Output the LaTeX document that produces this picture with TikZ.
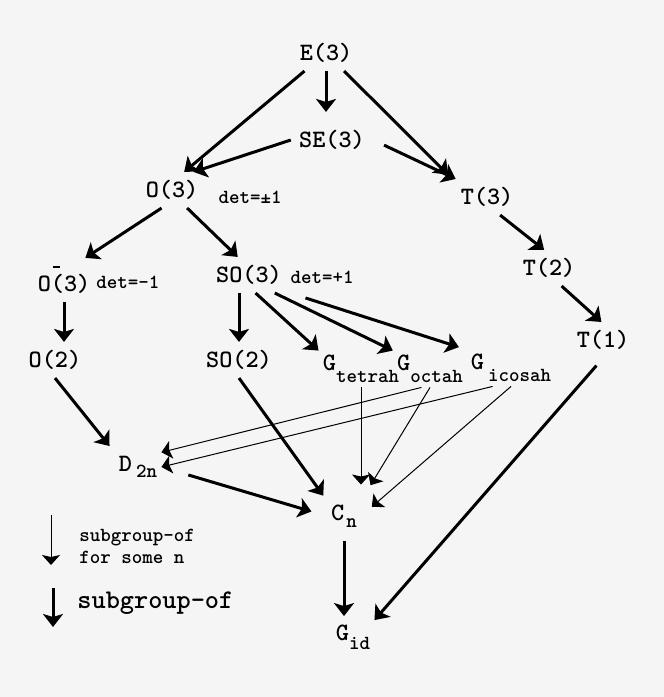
\documentclass[tikz,border=0pt]{standalone}
\usepackage{fontspec}
\usetikzlibrary{arrows.meta}
\newcommand\lowsub[2]{\raisebox{-#1}{\fontsize{10}{12}\selectfont #2}}

\begin{document}
\begin{tikzpicture}[x=.5pt,y=-.5pt,>={Stealth[length=6.5pt,width=10pt,inset=1.5pt]},
	grp/.style={font=\ttfamily\bfseries\fontsize{12.5}{15}\selectfont,inner sep=4pt},
	idx/.style={font=\ttfamily\bfseries\fontsize{12.5}{15}\selectfont,inner sep=2pt},
	note/.style={font=\ttfamily\bfseries\fontsize{10}{11}\selectfont,inner sep=0pt},
	strong/.style={->,line width=1.5pt},
	weak/.style={-{Stealth[length=5pt,width=9pt,inset=1pt]},line width=.5pt}]
	\fill[black!4] (0,0) rectangle (664,697);
	\useasboundingbox (0,0) rectangle (664,697);
	% groups
	\node[grp] (e3) at (326,53) {E(3)};
	\node[grp] (se3) at (332,140) {SE(3)};
	\node[grp] (o3) at (172,190) {O(3)};
	\node[grp] (t3) at (487,197) {T(3)};
	\node[grp] (om3) at (64,280) {O\rlap{\raisebox{12pt}{\hspace{1pt}\rule{3.8pt}{.7pt}}}(3)};
	\node[grp] (so3) at (249,275) {SO(3)};
	\node[grp] (t2) at (549,268) {T(2)};
	\node[grp] (t1) at (603,340) {T(1)};
	\node[grp] (o2) at (55,360) {O(2)};
	\node[grp] (so2) at (239,360) {SO(2)};
	\node[idx] (gt) at (361,369) {G\lowsub{6.2pt}{tetrah}};
	\node[idx] (go) at (430,369) {G\lowsub{6.2pt}{octah}};
	\node[idx] (gi) at (511,368) {G\kern2pt\lowsub{6.2pt}{icosah}};
	\node[idx] (d2n) at (138,467) {D\kern2pt\lowsub{2.7pt}{2n}};
	\node[idx] (cn) at (344,516) {C\kern1pt\lowsub{3.3pt}{n}};
	\node[idx] (gid) at (353,637) {G\lowsub{4.7pt}{id}};
	% determinants
	\node[note] (o3det) at (250,197) {det=±1};
	\node[note] (om3det) at (128,282) {det=-1};
	\node[note] (so3det) at (322,277) {det=+1};
	% subgroup-of
	\draw[strong] (e3) -- (o3.56);
	\draw[strong,shorten >=5pt] (e3.south) -- (e3.south |- se3.north);
	\draw[strong,shorten >=3pt] (e3) -- (t3.north west);
	\draw[strong] (se3.west) -- (o3.40);
	\draw[strong,shorten <=6pt] (se3.east) -- (t3.150);
	\draw[strong] (o3.240) -- (om3.46);
	\draw[strong] (o3.-50) -- (so3.122);
	\draw[strong] (t3.-54) -- (t2.105);
	\draw[strong] (t2.-55) -- (t1.95);
	\draw[strong] (om3.south) -- (om3.south |- o2.north);
	\draw[strong] (so2.north |- so3.south) -- (so2.north);
	\draw[strong] (so3.-70) -- (gt.north west);
	\draw[strong] (so3.-35) -- (go.north west);
	\draw[strong,shorten <=8pt,shorten >=4pt] (so3.south east) -- (gi.north west);
	\draw[strong,shorten >=4pt] (o2.south) -- (d2n.north west);
	\draw[strong,shorten >=3pt] (so2.south) -- (cn.north west);
	\draw[strong,shorten <=14pt,shorten >=8pt] (d2n.east) -- (cn.west);
	\draw[strong,shorten <=5pt,shorten >=2pt] (cn.south) -- (cn.south |- gid.north);
	\draw[strong,shorten <=5pt] (t1.south) -- (gid.north east);
	% subgroup-of for some n
	\draw[weak,shorten >=8pt] (gt.south) -- (gt.south |- cn.north);
	\draw[weak,shorten >=9pt] (go.south) -- (cn.north east);
	\draw[weak,shorten >=7pt] (gi.south) -- (cn.east);
	\draw[weak] (go.-115) -- (d2n.north east);
	\draw[weak] (gi.-135) -- (d2n.east);
	% legend
	\coordinate (lw1) at (51,515);
	\coordinate (lw2) at (51,565);
	\coordinate (ls1) at (53,588);
	\coordinate (ls2) at (53,627);
	\draw[weak] (lw1) -- (lw2);
	\draw[strong] (ls1) -- (ls2);
	\node[note,anchor=west,align=left] (lgweak) at (79,546) {subgroup-of\\for some n};
	\node[font=\ttfamily\bfseries\fontsize{13.5}{15}\selectfont,anchor=west,inner sep=0pt] (lgstrong) at (77,603) {subgroup-of};
\end{tikzpicture}
\end{document}
